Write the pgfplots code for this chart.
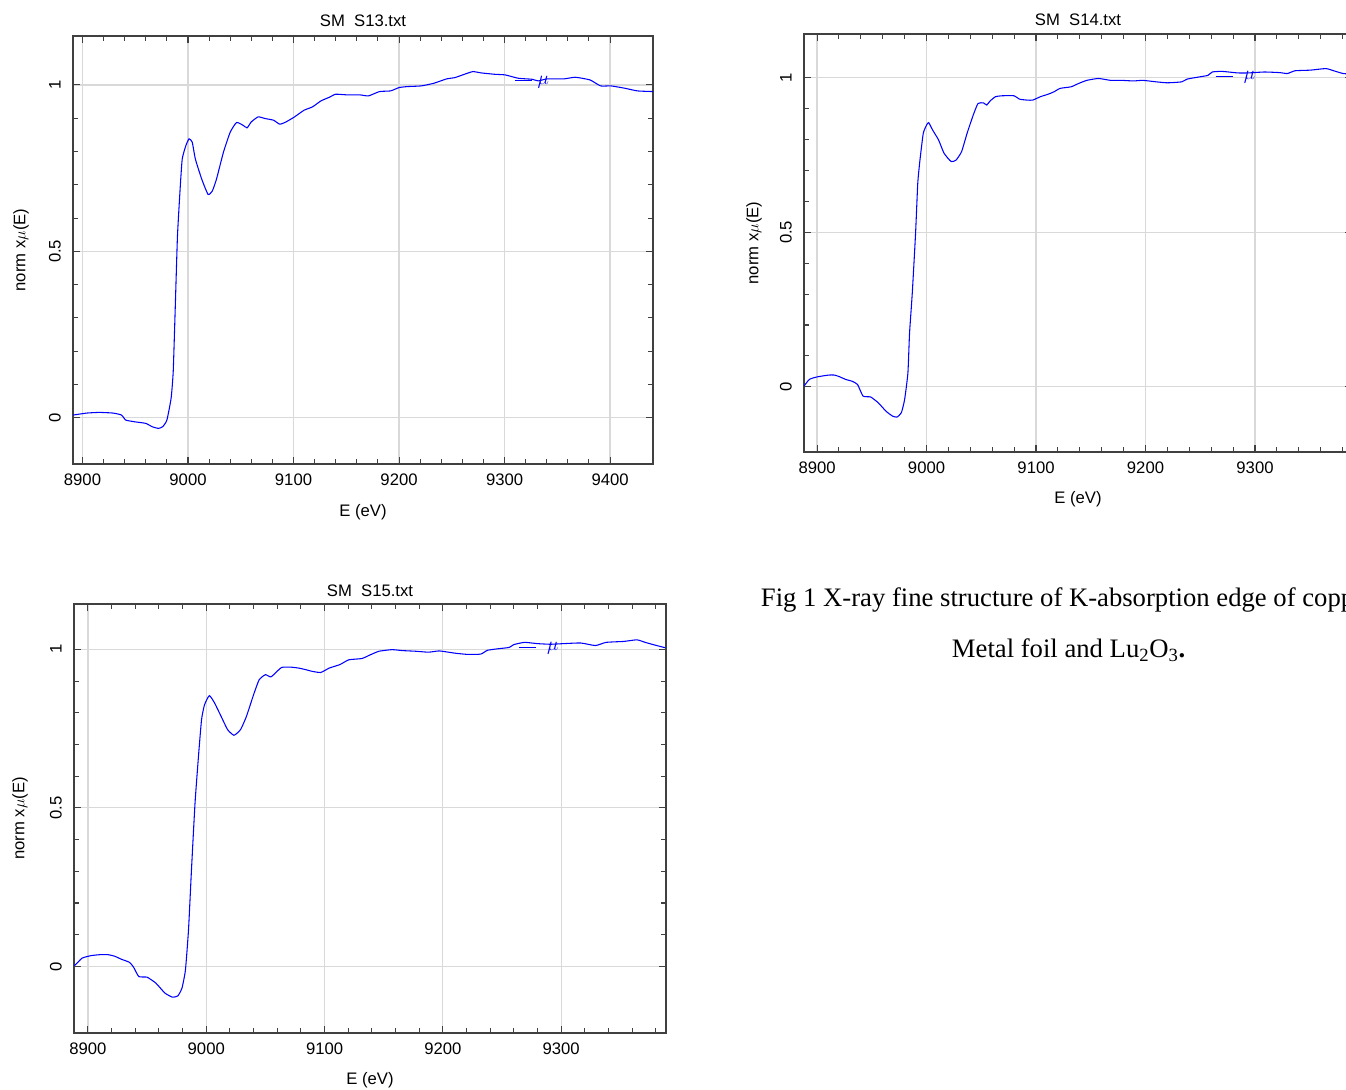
\documentclass[border=0pt]{standalone}
\usepackage{fontspec}
\setmainfont{Liberation Serif}
\newfontfamily\plotfont{Liberation Sans}
\usepackage{pgfplots}
\pgfplotsset{compat=1.18}

\pgfplotsset{
  xafs/.style={
    scale only axis,
    font=\plotfont\fontsize{12.5}{15}\selectfont,
    /pgf/number format/assume math mode=true,
    axis line style={black!75, line width=0.8pt},
    grid=major,
    major grid style={black!15, line width=0.9pt},
    minor grid style={draw=none},
    xtick={8900,9000,...,9400},
    ytick={0,0.5,1},
    minor x tick num=4,
    minor y tick num=4,
    tick align=inside,
    xtick pos=both, ytick pos=both,
    major tick length=5pt,
    minor tick length=3.5pt,
    tick style={black!75, line width=0.8pt},
    xticklabel style={/pgf/number format/1000 sep={}, anchor=center, yshift=-12pt},
    yticklabel style={/pgf/number format/fixed, xshift=-13.5pt, rotate=90, anchor=center},
    xlabel={E (eV)},
    ylabel={norm x$\mu$(E)},
    every axis title shift=0pt,
    legend image code/.code={\draw[blue, line width=0.8pt] (0pt,0pt) -- (12.75pt,0pt);},
    legend style={draw=none, fill=none, inner sep=0pt, text=blue,
      nodes={inner sep=0pt}, font=\plotfont\fontsize{15}{17}\selectfont},
  },
  curve/.style={blue, line width=0.8pt, mark=none, smooth, tension=0.3},
}

\begin{document}
\begin{tikzpicture}
\useasboundingbox (0,0) rectangle (1009.5pt,816.75pt);
\clip (0,0) rectangle (1009.5pt,816.75pt);

% ---------- Panel 1: SM S13 ----------
\begin{axis}[xafs,
  at={(54.75pt,468.75pt)}, anchor=south west,
  width=435pt, height=321pt,
  xmin=8891, xmax=9440.7, ymin=-0.139, ymax=1.147,
  title={SM\ \ S13.txt},
  title style={at={(axis description cs:0.5,1.035)}, anchor=center, yshift=0pt},
  xlabel style={at={(axis description cs:0.5,-0.112)}, anchor=center},
  ylabel style={at={(axis description cs:-0.0897,0.5)}, anchor=center},
  legend style={at={(axis cs:9309,1.012)}, anchor=west},
]
\addplot[curve] coordinates {
(8891,0.008)(8904,0.014)(8916,0.016)(8929,0.014)(8937,0.008)(8941,-0.007)(8949,-0.012)(8960,-0.017)(8966,-0.027)(8972,-0.032)(8976,-0.027)(8980,-0.007)(8984,0.059)(8986,0.14)(8988,0.34)(8990,0.545)(8992.5,0.686)(8994.5,0.777)(8998,0.818)(9001,0.838)(9004,0.828)(9007,0.777)(9013,0.717)(9019,0.671)(9023,0.681)(9027,0.717)(9033.6,0.798)(9040,0.858)(9046,0.887)(9052,0.879)(9056,0.871)(9060,0.889)(9066.5,0.904)(9073,0.899)(9081,0.894)(9087,0.882)(9093,0.889)(9101,0.904)(9110,0.924)(9118,0.934)(9126,0.952)(9134,0.963)(9140,0.972)(9151,0.970)(9163,0.970)(9171,0.967)(9181.5,0.980)(9192,0.982)(9200,0.992)(9208,0.995)(9221,0.997)(9233,1.005)(9245,1.018)(9253,1.022)(9262,1.032)(9270,1.040)(9278,1.036)(9290.5,1.032)(9300.7,1.030)(9313,1.020)(9326,1.017)(9332,1.012)(9340,1.018)(9356,1.018)(9367,1.023)(9381,1.015)(9391,0.997)(9401,0.997)(9414,0.990)(9426,0.982)(9440.7,0.980)
};
\addlegendentry{\hspace{4pt}$\mu$}
\end{axis}

% ---------- Panel 2: SM S14 ----------
\begin{axis}[xafs,
  at={(603pt,477.75pt)}, anchor=south west,
  width=411pt, height=313.5pt,
  xmin=8888.1, xmax=9388.6, ymin=-0.211, ymax=1.142,
  title={SM\ \ S14.txt},
  title style={at={(axis description cs:0.5,1.0335)}, anchor=center, yshift=0pt},
  xlabel style={at={(axis description cs:0.5,-0.112)}, anchor=center},
  ylabel style={at={(axis description cs:-0.0912,0.5)}, anchor=center},
  legend style={at={(axis cs:9263.4,1.004)}, anchor=west},
]
\addplot[curve] coordinates {
(8888.1,0.002)(8893,0.024)(8900,0.032)(8910.6,0.038)(8916,0.038)(8921,0.032)(8926,0.024)(8932,0.018)(8937,0.0075)(8942,-0.030)(8949,-0.033)(8956,-0.052)(8963,-0.079)(8969,-0.095)(8973,-0.098)(8977,-0.084)(8980,-0.041)(8983,0.045)(8984.5,0.174)(8987,0.304)(8990,0.497)(8992,0.659)(8994,0.734)(8997,0.820)(9000,0.847)(9002,0.855)(9005.6,0.831)(9011,0.799)(9016,0.756)(9022.5,0.729)(9027,0.734)(9032,0.761)(9037,0.820)(9042.6,0.879)(9047,0.917)(9052,0.919)(9055,0.912)(9058,0.925)(9063,0.939)(9069,0.942)(9080,0.942)(9085,0.931)(9092,0.928)(9097,0.928)(9104,0.939)(9111,0.947)(9116.5,0.955)(9122,0.966)(9132,0.971)(9139,0.982)(9146.5,0.992)(9157,0.998)(9168,0.992)(9178,0.992)(9189,0.990)(9197.5,0.992)(9210,0.987)(9220,0.984)(9233,0.987)(9238,0.996)(9249,1.003)(9257,1.008)(9261,1.019)(9270,1.021)(9284,1.016)(9294,1.016)(9308.5,1.019)(9322.5,1.017)(9329.6,1.014)(9336.6,1.023)(9350.7,1.025)(9364.8,1.030)(9373.6,1.021)(9380.6,1.014)(9388.6,1.012)
};
\addlegendentry{\hspace{8pt}$\mu$}
\end{axis}

% ---------- Panel 3: SM S15 ----------
\begin{axis}[xafs,
  at={(55.5pt,42pt)}, anchor=south west,
  width=444pt, height=321.75pt,
  xmin=8888.2, xmax=9388.6, ymin=-0.210, ymax=1.143,
  title={SM\ \ S15.txt},
  title style={at={(axis description cs:0.5,1.030)}, anchor=center, yshift=0pt},
  xlabel style={at={(axis description cs:0.5,-0.111)}, anchor=center},
  ylabel style={at={(axis description cs:-0.0912,0.5)}, anchor=center},
  legend style={at={(axis cs:9263.5,1.007)}, anchor=west},
]
\addplot[curve] coordinates {
(8888.6,0.002)(8895,0.026)(8902.6,0.034)(8910,0.037)(8917,0.037)(8922.7,0.032)(8928,0.023)(8935,0.013)(8938.5,-0.002)(8943,-0.032)(8950,-0.034)(8957.5,-0.053)(8965,-0.084)(8971.4,-0.097)(8976,-0.093)(8979.5,-0.068)(8982.4,-0.011)(8985,0.116)(8987.5,0.305)(8990.5,0.515)(8993.4,0.662)(8996,0.778)(8998.5,0.825)(9002.6,0.854)(9007,0.831)(9012.5,0.789)(9018,0.747)(9023.4,0.729)(9029,0.747)(9034,0.789)(9040,0.857)(9044.7,0.904)(9050,0.920)(9054.6,0.913)(9060,0.931)(9063.7,0.943)(9071,0.944)(9078,0.941)(9084,0.936)(9089,0.931)(9096.7,0.927)(9104,0.941)(9113,0.952)(9120.5,0.967)(9131.5,0.971)(9138.8,0.983)(9146,0.994)(9157,0.999)(9166,0.996)(9177,0.994)(9188,0.991)(9197,0.995)(9210,0.988)(9221,0.984)(9232,0.985)(9237.7,0.997)(9247,1.002)(9256,1.006)(9260,1.015)(9269,1.022)(9280,1.018)(9291,1.016)(9302,1.018)(9316.5,1.020)(9329,1.012)(9338,1.022)(9353,1.025)(9364,1.030)(9371,1.022)(9378.7,1.014)(9388,1.005)
};
\addlegendentry{\hspace{8pt}$\mu$}
\end{axis}

% ---------- Caption ----------
\node[anchor=base west, inner sep=0pt, font=\fontsize{20}{24}\selectfont]
  at ({760.7*0.75pt},{(1089-606.7)*0.75pt})
  {Fig 1 X-ray fine structure of K-absorption edge of copper};
\node[anchor=base west, inner sep=0pt, font=\fontsize{20}{24}\selectfont]
  at ({951.7*0.75pt},{(1089-657.7)*0.75pt})
  {Metal foil and Lu\textsubscript{2}O\textsubscript{3}\textbf{.}};
\end{tikzpicture}
\end{document}
